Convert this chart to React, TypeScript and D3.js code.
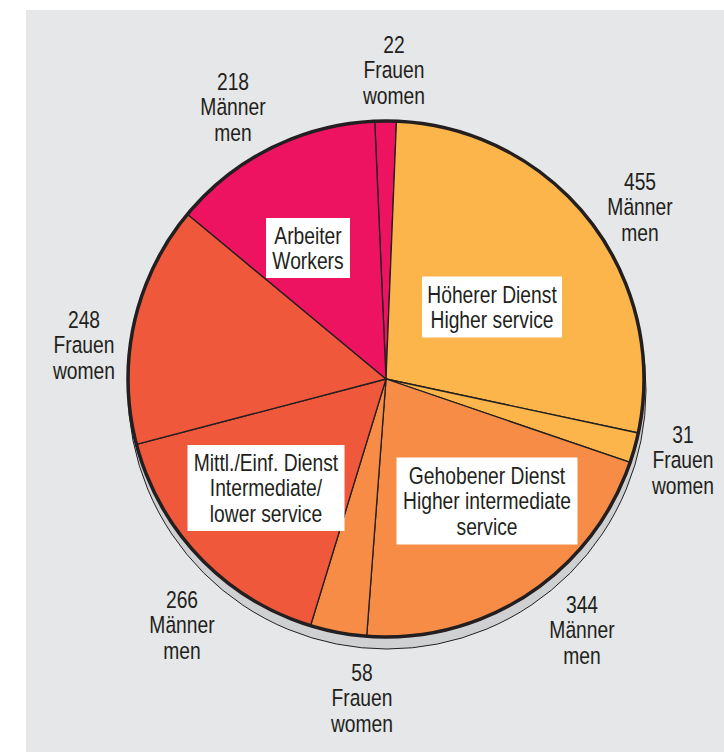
import React from 'react';
import * as d3 from 'd3';

interface Slice {
  group: string;
  sex: string;
  value: number;
}

// slices clockwise from the top
const groups: string[] = ['Arbeiter', 'Höherer', 'Höherer', 'Gehobener', 'Gehobener', 'Mittl', 'Mittl', 'Arbeiter'];
const sexes: string[] = ['Frauen', 'Männer', 'Frauen', 'Männer', 'Frauen', 'Männer', 'Frauen', 'Männer'];
const values: number[] = [22, 455, 31, 344, 58, 266, 248, 218];

const groupColors: Record<string, string> = {
  Arbeiter: '#EE1361',
  'Höherer': '#FBB54A',
  Gehobener: '#F68C45',
  Mittl: '#F0583C',
};

// group labels in white boxes
const boxGroups: string[] = ['Arbeiter', 'Höherer', 'Gehobener', 'Mittl'];
const boxLines: string[][] = [
  ['Arbeiter', 'Workers'],
  ['Höherer Dienst', 'Higher service'],
  ['Gehobener Dienst', 'Higher intermediate', 'service'],
  ['Mittl./Einf. Dienst', 'Intermediate/', 'lower service'],
];

const W = 724;
const H = 752;
const cx = 386;
const cy = 379;
const r = 258;
const font = '"Liberation Sans", Arial, sans-serif';
const textColor = '#231F20';
const fontSize = 23.5;
const squeeze = 0.82; // narrow type
const lineH = 25.5;

const deg = Math.PI / 180;

// layout: centre of each outer label block, relative to the pie centre
const labelOffsets: [number, number][] = [
  [8, -309], [254, -172], [297, 81], [196, 251], [-24, 319], [-204, 246], [-302, -34], [-153, -272],
];
// layout: box centre offsets and sizes
const boxOffsets: [number, number][] = [[-78, -131], [106, -72], [101, 122], [-120, 109]];
const boxSizes: [number, number][] = [[84, 60], [140, 61], [181, 87], [157, 86]];

const Label: React.FC<{ x: number; y: number; lines: string[] }> = ({ x, y, lines }) => (
  <g transform={`translate(${x},${y}) scale(${squeeze},1)`}>
    <text fontFamily={font} fontSize={fontSize} fill={textColor} textAnchor="middle">
      {lines.map((t, j) => (
        <tspan key={j} x={0} y={(j - (lines.length - 1) / 2) * lineH} dy="0.36em">
          {t}
        </tspan>
      ))}
    </text>
  </g>
);

const App: React.FC = () => {
  const data: Slice[] = values.map((v, i) => ({ group: groups[i], sex: sexes[i], value: v }));

  const pie = d3
    .pie<Slice>()
    .value((d) => d.value)
    .sort(null)
    .startAngle(-2.5 * deg)
    .endAngle(357.5 * deg);
  const arcs = pie(data);

  const arc = d3.arc<d3.PieArcDatum<Slice>>().innerRadius(0).outerRadius(r);

  return (
    <svg width={W} height={H} style={{ position: 'absolute', left: 0, top: 0 }}>
      <rect x={0} y={0} width={W} height={H} fill="#ffffff" />
      <rect x={26} y={10} width={W - 26} height={H - 10} fill="#E6E7E8" />

      {/* shadow */}
      <circle cx={cx + 1} cy={cy + 11} r={r + 1} fill="#CFD0D2" stroke="#231F20" strokeWidth={1} />

      <g transform={`translate(${cx},${cy})`}>
        {arcs.map((a, i) => (
          <path
            key={i}
            d={arc(a) || ''}
            fill={groupColors[a.data.group]}
            stroke={textColor}
            strokeWidth={1.3}
            strokeLinejoin="round"
          />
        ))}
        <circle r={r} fill="none" stroke={textColor} strokeWidth={3.5} />
      </g>

      {/* outer value labels */}
      {arcs.map((a, i) => (
        <Label
          key={i}
          x={cx + labelOffsets[i][0]}
          y={cy + labelOffsets[i][1]}
          lines={[String(a.data.value), a.data.sex, a.data.sex === 'Männer' ? 'men' : 'women']}
        />
      ))}

      {/* group boxes */}
      {boxGroups.map((g, gi) => {
        const x = cx + boxOffsets[gi][0];
        const y = cy + boxOffsets[gi][1];
        const [w, h] = boxSizes[gi];
        return (
          <g key={g}>
            <rect x={x - w / 2} y={y - h / 2} width={w} height={h} fill="#ffffff" />
            <Label x={x} y={y} lines={boxLines[gi]} />
          </g>
        );
      })}
    </svg>
  );
};

export default App;
